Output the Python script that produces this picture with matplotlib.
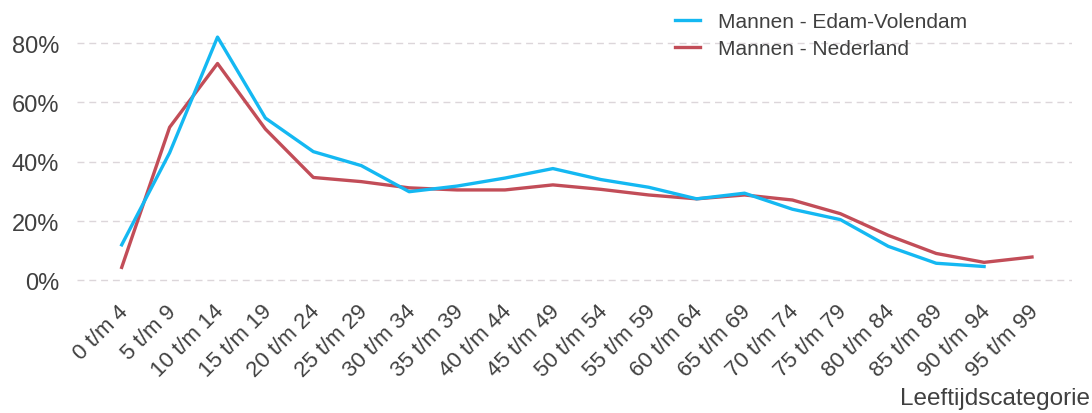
import matplotlib
matplotlib.use("Agg")
import matplotlib.pyplot as plt
import matplotlib.transforms as mtransforms
from matplotlib.ticker import FuncFormatter

plt.rcParams['font.family'] = ['Liberation Sans', 'DejaVu Sans']

categories = ["0 t/m 4", "5 t/m 9", "10 t/m 14", "15 t/m 19", "20 t/m 24", "25 t/m 29",
              "30 t/m 34", "35 t/m 39", "40 t/m 44", "45 t/m 49", "50 t/m 54", "55 t/m 59",
              "60 t/m 64", "65 t/m 69", "70 t/m 74", "75 t/m 79", "80 t/m 84", "85 t/m 89",
              "90 t/m 94", "95 t/m 99"]
edam_volendam = [12.0, 43.0, 82.0, 54.7, 43.4, 38.7, 29.9, 31.8, 34.5, 37.7, 34.0, 31.4,
                 27.5, 29.4, 24.0, 20.5, 11.5, 5.8, 4.7, None]
nederland = [4.4, 51.6, 73.1, 51.0, 34.7, 33.3, 31.2, 30.5, 30.5, 32.2, 30.7, 28.8,
             27.5, 28.8, 27.1, 22.5, 15.2, 9.1, 6.1, 7.9]
series_names = ["Mannen - Edam-Volendam", "Mannen - Nederland"]
yticks = [0, 20, 40, 60, 80]

W, H = 1092, 414
fig = plt.figure(figsize=(W / 100, H / 100), dpi=100)

left_px, right_px = 77, 1072
bot_px, top_px = 287.4, 26.2
ax = fig.add_axes([left_px / W, 1 - bot_px / H, (right_px - left_px) / W, (bot_px - top_px) / H])

x = list(range(len(categories)))
ev_x = [i for i, v in zip(x, edam_volendam) if v is not None]
ev_y = [v for v in edam_volendam if v is not None]

ax.plot(ev_x, ev_y, color='#14B8F2', lw=2.4, label=series_names[0], zorder=3, solid_joinstyle='round')
ax.plot(x, nederland, color='#C24D58', lw=2.4, label=series_names[1], zorder=2, solid_joinstyle='round')

ax.set_xlim(-0.933, 19.835)
ax.set_ylim(-2, 86)
ax.set_yticks(yticks)
ax.yaxis.set_major_formatter(FuncFormatter(lambda v, p: f"{int(v)}%"))
ax.set_xticks(x)
ax.set_xticklabels(categories, rotation=45, ha='right', rotation_mode='anchor')

for s in ax.spines.values():
    s.set_visible(False)
ax.tick_params(axis='both', length=0, colors='#404040')
ax.tick_params(axis='y', pad=13, labelsize=17)
ax.tick_params(axis='x', pad=10, labelsize=16)
shift = mtransforms.ScaledTranslation(-4 / 100, 0, fig.dpi_scale_trans)
for lab in ax.get_xticklabels():
    lab.set_transform(lab.get_transform() + shift)
ax.grid(axis='y', color='#DCD6DA', linestyle=(0, (5, 3.5)), lw=1.0)
ax.set_axisbelow(True)

leg = fig.legend(loc='upper left', bbox_to_anchor=(675 / W, 1 - 13.5 / H), frameon=False,
                 fontsize=15, handlelength=1.2, handletextpad=0.85, labelspacing=0.35,
                 borderpad=0, borderaxespad=0)
for t in leg.get_texts():
    t.set_color('#404040')

fig.text(1090 / W, 4 / H, "Leeftijdscategorie", ha='right', va='bottom', fontsize=17.5, color='#404040')

fig.savefig("out.png", dpi=100)
